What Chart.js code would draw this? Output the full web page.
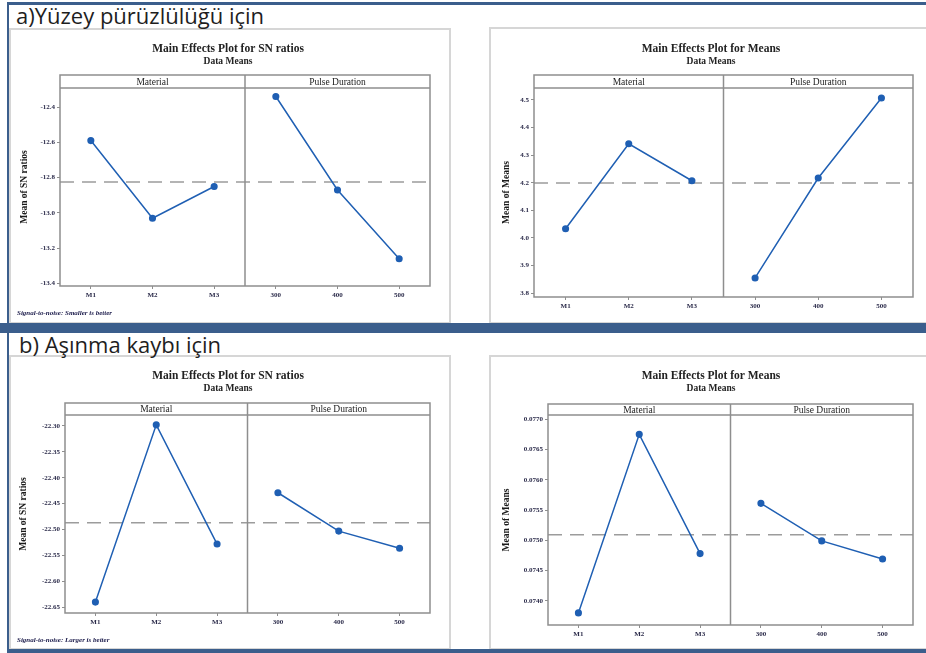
<!DOCTYPE html>
<html><head><meta charset="utf-8">
<script src="https://cdn.jsdelivr.net/npm/chart.js@4.4.1/dist/chart.umd.min.js"></script>
<style>
body{margin:0;width:926px;height:653px;background:#fff;position:relative;overflow:hidden}
.bar{position:absolute;background:#3b5e8c}
.panel{position:absolute;border:2px solid #d6d6d6;box-sizing:border-box;background:#fff}
.head{position:absolute;font-family:'Open Sans',sans-serif;font-size:22px;color:#1e1e1e;line-height:22px;white-space:nowrap}
.note{position:absolute;font:italic bold 7px 'Liberation Serif',serif;color:#1a1a4a;white-space:nowrap}
canvas{position:absolute}
</style></head><body>

<div class="panel" style="left:9px;top:28px;width:442px;height:296px"></div>
<div class="panel" style="left:489px;top:27px;width:440px;height:297px"></div>
<div class="panel" style="left:9px;top:355px;width:442px;height:295px"></div>
<div class="panel" style="left:489px;top:355px;width:440px;height:295px"></div>

<div class="head" style="left:16px;top:4px">a)Yüzey pürüzlülüğü için</div>
<div class="head" style="left:19px;top:333px">b) Aşınma kaybı için</div>

<canvas id="a1" width="438" height="292" style="left:11px;top:30px"></canvas>
<canvas id="a2" width="435" height="293" style="left:491px;top:29px"></canvas>
<canvas id="b1" width="438" height="291" style="left:11px;top:357px"></canvas>
<canvas id="b2" width="435" height="291" style="left:491px;top:357px"></canvas>

<div class="note" style="left:17px;top:309px">Signal-to-noise: Smaller is better</div>
<div class="note" style="left:17px;top:636px">Signal-to-noise: Larger is better</div>

<div class="bar" style="left:7px;top:2px;width:919px;height:3px"></div>
<div class="bar" style="left:7px;top:2px;width:2px;height:651px"></div>
<div class="bar" style="left:0;top:323px;width:926px;height:10px"></div>
<div class="bar" style="left:7px;top:649px;width:919px;height:4px"></div>

<script>
const xLabels = ['M1', 'M2', 'M3', '300', '400', '500'];
const factorNames = ['Material', 'Pulse Duration'];

// a) surface roughness
const snRoughMaterial = [-12.59, -13.03, -12.85];
const snRoughPulse = [-12.34, -12.87, -13.26];
const snRoughMean = -12.825;
const snRoughTicks = [-12.4, -12.6, -12.8, -13.0, -13.2, -13.4];

const meanRoughMaterial = [4.033, 4.341, 4.207];
const meanRoughPulse = [3.855, 4.217, 4.507];
const meanRoughMean = 4.199;
const meanRoughTicks = [4.5, 4.4, 4.3, 4.2, 4.1, 4.0, 3.9, 3.8];

// b) wear loss
const snWearMaterial = [-22.640, -22.298, -22.528];
const snWearPulse = [-22.429, -22.503, -22.536];
const snWearMean = -22.487;
const snWearTicks = [-22.30, -22.35, -22.40, -22.45, -22.50, -22.55, -22.60, -22.65];

const meanWearMaterial = [0.07380, 0.07675, 0.07478];
const meanWearPulse = [0.07561, 0.07499, 0.07469];
const meanWearMean = 0.07509;
const meanWearTicks = [0.0770, 0.0765, 0.0760, 0.0755, 0.0750, 0.0745, 0.0740];

const BLUE = '#1f5fb3';
const SERIF = '"Liberation Serif", serif';

const facetPlugin = {
  id: 'facets',
  afterDraw(chart, args, o) {
    const { ctx, chartArea: a, scales: { x } } = chart;
    const st = o.stripTop;
    const xd = x.getPixelForValue(3.5);
    ctx.save();
    ctx.strokeStyle = '#8e8e8e';
    ctx.lineWidth = 1.5;
    ctx.strokeRect(a.left, st, a.right - a.left, a.bottom - st);
    ctx.beginPath();
    ctx.moveTo(a.left, a.top); ctx.lineTo(a.right, a.top);
    ctx.moveTo(xd, st); ctx.lineTo(xd, a.bottom);
    ctx.stroke();
    ctx.fillStyle = '#222';
    ctx.textAlign = 'center';
    ctx.textBaseline = 'middle';
    ctx.font = `9.5px ${SERIF}`;
    ctx.fillText(factorNames[0], (a.left + xd) / 2, (st + a.top) / 2 + 0.5);
    ctx.fillText(factorNames[1], (xd + a.right) / 2, (st + a.top) / 2 + 0.5);
    ctx.font = `bold 11.5px ${SERIF}`;
    ctx.fillText(o.title, o.titleX, o.titleY);
    ctx.font = `bold 9.5px ${SERIF}`;
    ctx.fillText('Data Means', o.titleX, o.subY);
    ctx.restore();
  }
};

function makeChart(id, spec) {
  const c = spec.canvas, p = spec.plot;
  const w = c.w, h = c.h;
  const left = p.l - c.x, right = p.r - c.x, top = p.t - c.y, bottom = p.b - c.y;
  new Chart(document.getElementById(id), {
    type: 'line',
    data: {
      datasets: [
        { data: spec.material.map((v, i) => ({ x: i + 1, y: v })), borderColor: BLUE, backgroundColor: BLUE,
          borderWidth: 1.5, pointRadius: 2.8, pointHoverRadius: 2.8 },
        { data: spec.pulse.map((v, i) => ({ x: i + 4, y: v })), borderColor: BLUE, backgroundColor: BLUE,
          borderWidth: 1.5, pointRadius: 2.8, pointHoverRadius: 2.8 },
        { data: [{ x: 0.5, y: spec.mean }, { x: 6.5, y: spec.mean }], borderColor: '#9c9c9c',
          borderWidth: 1.5, borderDash: [14, 8], pointRadius: 0 },
      ],
    },
    options: {
      responsive: false, animation: false, events: [],
      layout: { padding: { left: 0, top: top, right: w - right, bottom: 0 } },
      plugins: {
        legend: { display: false }, tooltip: { enabled: false },
        facets: { stripTop: spec.stripTop - c.y, title: spec.title, titleX: spec.titleX - c.x,
                  titleY: spec.titleY - c.y, subY: spec.subY - c.y },
      },
      scales: {
        x: {
          type: 'linear', min: 0.5, max: 6.5,
          afterBuildTicks: s => { s.ticks = xLabels.map((_, i) => ({ value: i + 1 })); },
          afterFit: s => { s.height = h - bottom; },
          grid: { drawOnChartArea: false, tickLength: 3, color: '#8e8e8e' },
          border: { display: false },
          ticks: { autoSkip: false, color: '#2b2b4a', font: { family: SERIF, size: 7, weight: 'bold' }, padding: 2,
                   callback: v => xLabels[v - 1] },
        },
        y: {
          min: spec.ymin, max: spec.ymax,
          afterBuildTicks: s => { s.ticks = spec.ticks.map(v => ({ value: v })); },
          afterFit: s => { s.width = left; },
          grid: { drawOnChartArea: false, tickLength: 3, color: '#8e8e8e' },
          border: { display: false },
          ticks: { autoSkip: false, color: '#2b2b4a', font: { family: SERIF, size: 7, weight: 'bold' }, padding: 2,
                   callback: v => v.toFixed(spec.dec) },
          title: { display: true, text: spec.yTitle, color: '#1a1a1a',
                   font: { family: SERIF, size: 9.5, weight: 'bold' },
                   padding: { top: spec.yTitleX - c.x - 5.7 } },
        },
      },
    },
    plugins: [facetPlugin],
  });
}

makeChart('a1', {
  canvas: { x: 11, y: 30, w: 438, h: 292 }, plot: { l: 60, r: 430, t: 88, b: 286 }, stripTop: 75,
  title: 'Main Effects Plot for SN ratios', titleX: 228, titleY: 49, subY: 62, yTitle: 'Mean of SN ratios', yTitleX: 25,
  material: snRoughMaterial, pulse: snRoughPulse, mean: snRoughMean, ticks: snRoughTicks,
  ymin: -13.414, ymax: -12.292, dec: 1,
});
makeChart('a2', {
  canvas: { x: 491, y: 29, w: 435, h: 293 }, plot: { l: 534, r: 913, t: 88, b: 297 }, stripTop: 75,
  title: 'Main Effects Plot for Means', titleX: 711, titleY: 49, subY: 62, yTitle: 'Mean of Means', yTitleX: 507,
  material: meanRoughMaterial, pulse: meanRoughPulse, mean: meanRoughMean, ticks: meanRoughTicks,
  ymin: 3.786, ymax: 4.543, dec: 1,
});
makeChart('b1', {
  canvas: { x: 11, y: 357, w: 438, h: 291 }, plot: { l: 65, r: 430, t: 415, b: 613 }, stripTop: 403,
  title: 'Main Effects Plot for SN ratios', titleX: 228, titleY: 376, subY: 389, yTitle: 'Mean of SN ratios', yTitleX: 24,
  material: snWearMaterial, pulse: snWearPulse, mean: snWearMean, ticks: snWearTicks,
  ymin: -22.661, ymax: -22.279, dec: 2,
});
makeChart('b2', {
  canvas: { x: 491, y: 357, w: 435, h: 291 }, plot: { l: 548, r: 913, t: 415, b: 625 }, stripTop: 404,
  title: 'Main Effects Plot for Means', titleX: 711, titleY: 376, subY: 389, yTitle: 'Mean of Means', yTitleX: 507,
  material: meanWearMaterial, pulse: meanWearPulse, mean: meanWearMean, ticks: meanWearTicks,
  ymin: 0.07360, ymax: 0.07707, dec: 4,
});
</script>
</body></html>
